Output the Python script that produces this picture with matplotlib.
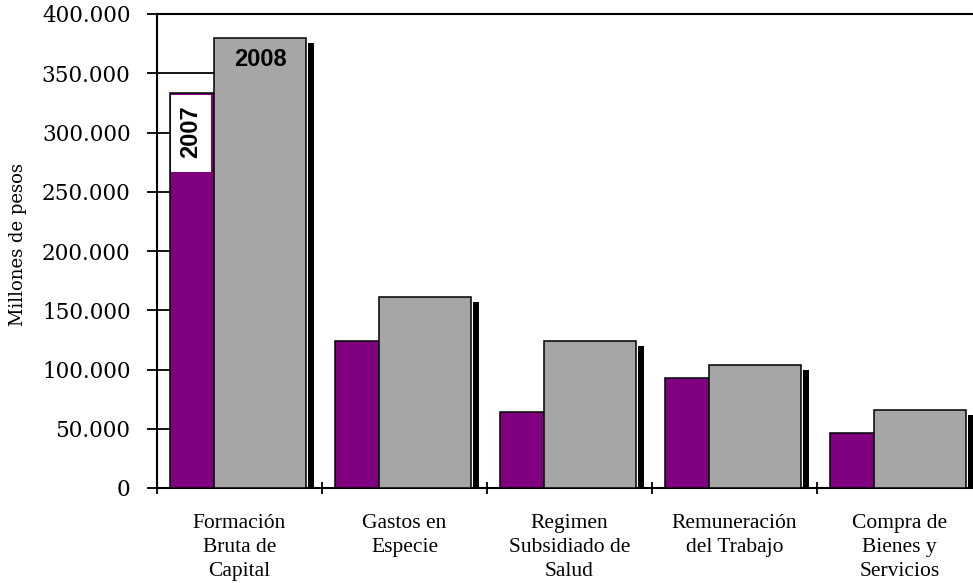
import matplotlib
matplotlib.use("Agg")
import matplotlib.pyplot as plt
import numpy as np
from matplotlib.ticker import FuncFormatter
from matplotlib.patches import Rectangle

categories = ["Formación\nBruta de\nCapital", "Gastos en\nEspecie", "Regimen\nSubsidiado de\nSalud",
              "Remuneración\ndel Trabajo", "Compra de\nBienes y\nServicios"]
values_2007 = [333000, 124000, 64000, 93000, 46000]
values_2008 = [380000, 161000, 124000, 104000, 66000]
y_ticks = [0, 50000, 100000, 150000, 200000, 250000, 300000, 350000, 400000]

W, H = 973, 583
fig = plt.figure(figsize=(W / 100, H / 100), dpi=100)
ax = fig.add_axes([157 / W, (H - 488) / H, 825 / W, 474 / H])

n = len(categories)
x0 = np.arange(n)
p_off, p_w = 13 / 165, 44 / 165
g_off, g_w = 57 / 165, 92 / 165
s_off, s_w = 151 / 165, 6 / 165
shadow_drop = 5 * 400000 / 474

# partial gridlines (visible only left of first gray bar)
for t in y_ticks[1:-1]:
    ax.plot([0, g_off], [t, t], color="black", lw=1.3, zorder=1, solid_capstyle="butt")

ax.bar(x0 + s_off, np.array(values_2008) - shadow_drop, width=s_w, align="edge",
       color="black", edgecolor="none", zorder=2)
ax.bar(x0 + p_off, values_2007, width=p_w, align="edge", color="#800080",
       edgecolor="black", linewidth=1.1, zorder=3)
ax.bar(x0 + g_off, values_2008, width=g_w, align="edge", color="#A6A6A6",
       edgecolor="black", linewidth=1.1, zorder=3)

ax.set_xlim(0, n)
ax.set_ylim(0, 400000)

# white label box for 2007
box_top = values_2007[0] - 1700
box_bot = values_2007[0] - 66500
ax.add_patch(Rectangle((p_off + 0.004, box_bot), p_w - 0.022, box_top - box_bot,
                       facecolor="white", edgecolor="none", zorder=4))
ax.text(p_off + p_w / 2 - 0.008, 300500, "2007", rotation=90, ha="center", va="center",
        fontsize=17, fontweight="bold", family="Liberation Sans", zorder=5)
ax.text(g_off + g_w / 2, 362000, "2008", ha="center", va="center",
        fontsize=17, fontweight="bold", family="Liberation Sans", zorder=5)

ax.set_yticks(y_ticks)
ax.yaxis.set_major_formatter(FuncFormatter(lambda v, p: f"{int(v):,}".replace(",", ".")))
ax.tick_params(axis="y", direction="out", length=7, width=1.3, pad=12, labelsize=15.5)
for lab in ax.get_yticklabels():
    lab.set_family("DejaVu Serif")

ax.set_xticks(np.arange(n))
ax.set_xticklabels([])
ax.tick_params(axis="x", which="major", direction="inout", length=9, width=1.3)
ax.set_xticks(x0 + 0.5, minor=True)
ax.set_xticklabels(categories, minor=True, family="Liberation Serif", fontsize=15.5,
                   linespacing=1.34)
ax.tick_params(axis="x", which="minor", length=0, pad=19)

for s in ["left", "bottom", "top", "right"]:
    ax.spines[s].set_linewidth(1.5)

fig.text(18 / W, 1 - 245 / H, "Millones de pesos", rotation=90, ha="center", va="center",
         family="DejaVu Serif", fontsize=13)

fig.savefig("out.png", dpi=100)
